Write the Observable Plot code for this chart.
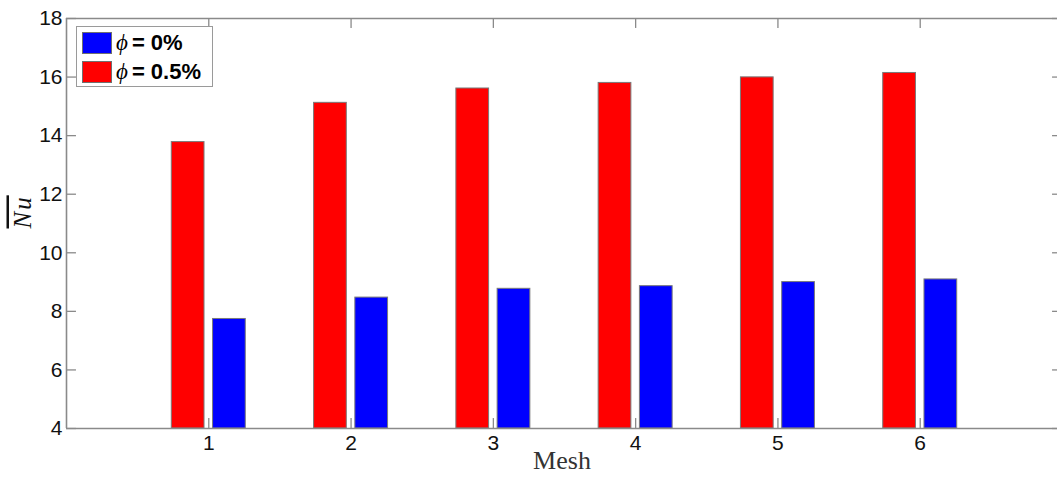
<!DOCTYPE html>
<html>
<head>
<meta charset="utf-8">
<script src="https://cdn.jsdelivr.net/npm/d3@7"></script>
<script src="https://cdn.jsdelivr.net/npm/@observablehq/plot@0.6"></script>
<style>
  html, body { margin: 0; padding: 0; background: #fff; }
  #wrap { position: relative; width: 1057px; height: 479px; overflow: hidden; }
  #legend {
    position: absolute; left: 76px; top: 26px; width: 137px; height: 61px;
    box-sizing: border-box; border: 1px solid #9a9a9a; background: #fff;
    font-family: "Liberation Sans", Arial, sans-serif; font-weight: bold; font-size: 22px; color: #000;
  }
  #legend .row { position: absolute; left: 5px; height: 23px; display: flex; align-items: center; white-space: nowrap; }
  #legend .sw { width: 30px; height: 22px; box-sizing: border-box; border: 1px solid #707070; margin-right: 4px; }
  #legend .phi { font-family: "Liberation Serif", "Times New Roman", serif; font-style: italic; font-weight: normal; font-size: 23px; margin-right: 4px; }
</style>
</head>
<body>
<div id="wrap"></div>
<script>
// ---- data ----
const meshes = [1, 2, 3, 4, 5, 6];
const nuPhi0 = [7.74, 8.47, 8.77, 8.86, 9.00, 9.09];
const nuPhi05 = [13.78, 15.12, 15.61, 15.80, 15.99, 16.14];
const yTicks = [4, 6, 8, 10, 12, 14, 16, 18];
const xTicks = [1, 2, 3, 4, 5, 6];
const seriesLabels = ["= 0%", "= 0.5%"];
const seriesColors = ["#0000ff", "#ff0000"];

const rows0 = meshes.map((m, i) => ({mesh: m, value: nuPhi0[i]}));
const rows05 = meshes.map((m, i) => ({mesh: m, value: nuPhi05[i]}));

const frameColor = "#8a8a8a";
const tickLenX = 0.07;   // in x data units
const tickLenY = 0.34;   // in y data units

const chart = Plot.plot({
  width: 1057, height: 479,
  marginLeft: 66, marginTop: 18, marginBottom: 51, marginRight: 0,
  x: {type: "linear", domain: [0, 7], range: [66, 1062]},
  y: {domain: [4, 18], range: [428, 18]},
  style: {fontFamily: "Liberation Sans, Arial, sans-serif", fontSize: "21px", color: "#111", background: "#fff"},
  marks: [
    Plot.rectY(rows05, {x1: d => d.mesh - 0.26, x2: d => d.mesh - 0.03, y1: 4, y2: "value", fill: seriesColors[1], stroke: "#7a7a7a", strokeWidth: 1}),
    Plot.rectY(rows0, {x1: d => d.mesh + 0.03, x2: d => d.mesh + 0.26, y1: 4, y2: "value", fill: seriesColors[0], stroke: "#7a7a7a", strokeWidth: 1}),
    // box
    Plot.ruleY([4, 18], {x1: 0, x2: 7, stroke: frameColor, strokeWidth: 1.6}),
    Plot.ruleX([0, 7], {y1: 4, y2: 18, stroke: frameColor, strokeWidth: 1.6}),
    // inward ticks
    Plot.ruleY(yTicks, {x1: 0, x2: tickLenX, stroke: frameColor, strokeWidth: 1.3}),
    Plot.ruleY(yTicks, {x1: 7 - tickLenX, x2: 7, stroke: frameColor, strokeWidth: 1.3}),
    Plot.ruleX(xTicks, {y1: 4, y2: 4 + tickLenY, stroke: frameColor, strokeWidth: 1.3}),
    Plot.ruleX(xTicks, {y1: 18 - tickLenY, y2: 18, stroke: frameColor, strokeWidth: 1.3}),
    // tick labels
    Plot.axisY(yTicks, {anchor: "left", tickSize: 0, tickPadding: 4, label: null, tickFormat: d3.format("d"), className: "ytl"}),
    Plot.axisX(xTicks, {anchor: "bottom", tickSize: 0, tickPadding: 7, label: null, tickFormat: d3.format("d"), className: "xtl"}),
    // axis titles
    Plot.text(["Mesh"], {frameAnchor: "bottom", dy: 40, text: d => d, fontFamily: "Liberation Serif, Times New Roman, serif", fontSize: 26, fill: "#333"}),
    Plot.text(["Nu"], {frameAnchor: "left", dx: -44, dy: 5, rotate: -90, text: d => d, fontFamily: "Liberation Serif, Times New Roman, serif", fontStyle: "italic", fontSize: 25, fill: "#111", className: "ylab"})
  ]
});

d3.select(chart).selectAll(".ylab text").style("text-decoration", "overline").style("letter-spacing", "2px");
d3.select(chart).selectAll("g[aria-label*='tick label']").style("font-size", "21px").attr("font-size", 21);
d3.select(chart).selectAll("g[aria-label*='tick label'] text").style("font-size", "21px");
document.getElementById("wrap").appendChild(chart);

// legend
const legend = document.createElement("div");
legend.id = "legend";
[0, 1].forEach((k, i) => {
  const row = document.createElement("div");
  row.className = "row";
  row.style.top = (4 + i * 29) + "px";
  row.innerHTML = `<span class="sw" style="background:${seriesColors[k]}"></span><span class="phi">ϕ</span><span>${seriesLabels[k]}</span>`;
  legend.appendChild(row);
});
document.getElementById("wrap").appendChild(legend);
</script>
</body>
</html>
